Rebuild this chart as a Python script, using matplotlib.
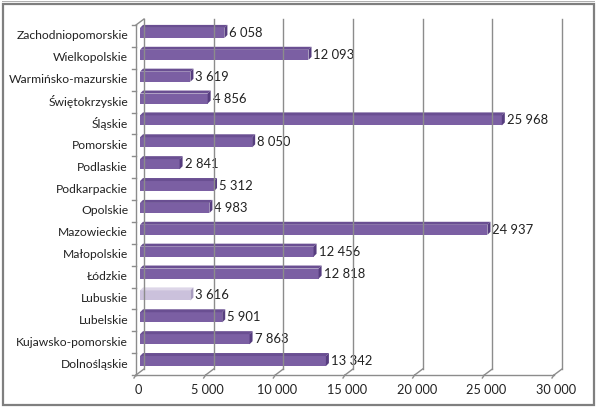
import matplotlib
matplotlib.use("Agg")
import matplotlib.pyplot as plt
import matplotlib.transforms as mtransforms
from matplotlib.patches import Polygon, Rectangle
from matplotlib.lines import Line2D

regions = ["Dolnośląskie", "Kujawsko-pomorskie", "Lubelskie", "Lubuskie", "Łódzkie",
           "Małopolskie", "Mazowieckie", "Opolskie", "Podkarpackie", "Podlaskie",
           "Pomorskie", "Śląskie", "Świętokrzyskie", "Warmińsko-mazurskie",
           "Wielkopolskie", "Zachodniopomorskie"]
values = [13342, 7863, 5901, 3616, 12818, 12456, 24937, 4983, 5312, 2841,
          8050, 25968, 4856, 3619, 12093, 6058]
highlight = "Lubuskie"
x_ticks = [0, 5000, 10000, 15000, 20000, 25000, 30000]

def fmt(v):
    return f"{v:,}".replace(",", " ")

plt.rcParams['font.family'] = ['Lato', 'DejaVu Sans']

W, H = 597, 408
fig = plt.figure(figsize=(W / 100, H / 100), dpi=100)
ax = fig.add_axes([140 / W, 1 - 372 / H, 418 / W, 350 / H])
ax.set_xlim(0, 30000)
ax.set_ylim(-0.5, len(regions) - 0.5)
ax.axis("off")

ident = mtransforms.IdentityTransform()
dx, dy = 4, 3  # depth offset (px) between bar plane and back wall / front floor

def px(x, y):
    return ax.transData.transform((x, y))

def line(pts, **kw):
    fig.add_artist(Line2D([p[0] for p in pts], [p[1] for p in pts], transform=ident, **kw))

grid_c = "#8c8c8c"
ytop = len(regions) - 0.5
ybot = -0.5

# back wall gridlines and floor
for t in x_ticks:
    bx, by = px(t, ybot)
    _, ty = px(t, ytop)
    line([(bx + dx, by + dy), (bx + dx, ty + dy)], color=grid_c, lw=1)
    line([(bx - dx, by - dy), (bx + dx, by + dy)], color=grid_c, lw=1)
    line([(bx - dx, by - dy), (bx - dx - 2, by - dy - 3)], color=grid_c, lw=1)
    ax.text(bx - dx + 2, by - dy - 15, fmt(t), transform=ident, ha="center", va="center",
            fontsize=9.2, color="#222222")

x0, y0 = px(0, ybot)
x1, _ = px(30000, ybot)
_, y1 = px(0, ytop)
line([(x0 - dx, y0 - dy), (x1 - dx, y0 - dy)], color=grid_c, lw=1)
line([(x0 - dx, y0 - dy), (x0 - dx, y1 - dy)], color=grid_c, lw=1)
line([(x0 - dx, y1 - dy), (x0 + dx, y1 + dy)], color=grid_c, lw=1)

# left axis ticks at category boundaries
for k in range(len(regions) + 1):
    _, ky = px(0, k - 0.5)
    line([(x0 - dx - 4, ky - dy), (x0 - dx, ky - dy)], color=grid_c, lw=1)

# bars
bh = 0.46
d = 3
for i, (name, v) in enumerate(zip(regions, values)):
    if name == highlight:
        face, cap, top = "#cbc1dc", "#a89cbf", "#ddd6e8"
    else:
        face, cap, top = "#7b5fa3", "#563d7f", "#6a4f92"
    lx, by_ = px(0, i - bh / 2)
    rx, ty_ = px(v, i + bh / 2)
    fig.add_artist(Polygon([(lx, ty_), (rx, ty_), (rx + d, ty_ + d), (lx + d, ty_ + d)],
                           closed=True, transform=ident, fc=top, ec="none"))
    fig.add_artist(Polygon([(rx, by_), (rx, ty_), (rx + d, ty_ + d), (rx + d, by_ + d)],
                           closed=True, transform=ident, fc=cap, ec="none"))
    ax.barh(i, v, height=bh, color=face, edgecolor="none", zorder=3)
    ax.text(rx + d + 2, (by_ + ty_) / 2, fmt(v), transform=ident, ha="left", va="center",
            fontsize=9.4, color="#222222")
    ax.text(x0 - dx - 8, (by_ + ty_) / 2 - dy, name, transform=ident, ha="right",
            va="center", fontsize=8.7, color="#222222")

# chart frame with shadow
fig.add_artist(Rectangle((3, 3), W - 6, H - 7, transform=ident, fill=False,
                         ec="#7f7f7f", lw=1.6))
fig.add_artist(Rectangle((1.5, H - 2), W - 4, 1, transform=ident, fc="#b0b0b0", ec="none"))

fig.savefig("out.png", dpi=100)
